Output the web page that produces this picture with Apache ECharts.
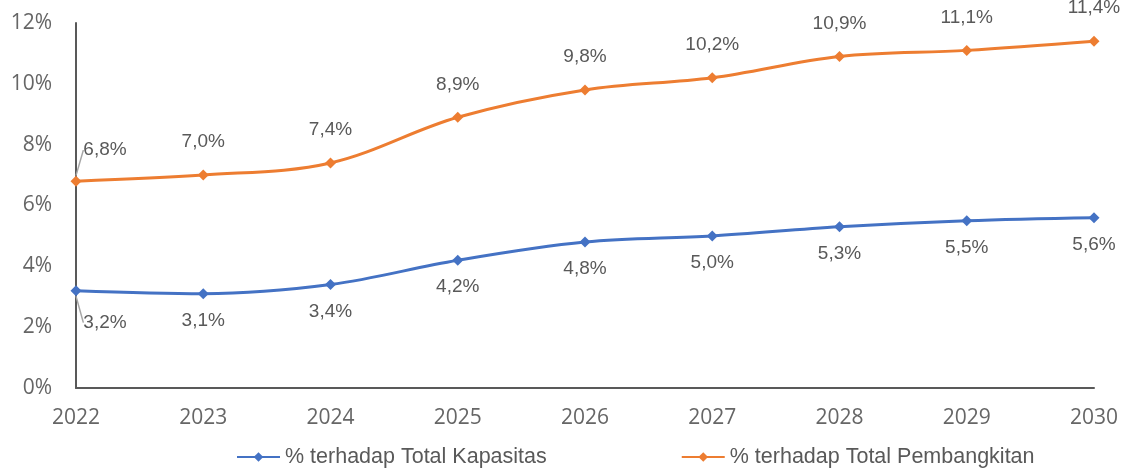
<!DOCTYPE html>
<html>
<head>
<meta charset="utf-8">
<script src="https://cdn.jsdelivr.net/npm/echarts@6/dist/echarts.min.js"></script>
<style>html,body{margin:0;padding:0;background:#fff;}#c{width:1124px;height:472px;}</style>
</head>
<body>
<div id="c"></div>
<script>
const categories = ['2022','2023','2024','2025','2026','2027','2028','2029','2030'];
const kapasitas = [3.2, 3.1, 3.4, 4.2, 4.8, 5.0, 5.3, 5.5, 5.6];
const pembangkitan = [6.8, 7.0, 7.4, 8.9, 9.8, 10.2, 10.9, 11.1, 11.4];
const seriesNames = ['% terhadap Total Kapasitas', '% terhadap Total Pembangkitan'];
const yTicks = [0, 2, 4, 6, 8, 10, 12];

const fmt = v => v.toFixed(1).replace('.', ',') + '%';
const chart = echarts.init(document.getElementById('c'), null, {renderer: 'canvas'});
const labelFont = {fontFamily: 'Liberation Sans, Arial, sans-serif', fontSize: 19, color: '#595959'};
const leader = {show: true, lineStyle: {color: '#a6a6a6', width: 1.5}};
const withLeader = arr => arr.map((v, i) => i === 0 ? {value: v, labelLine: leader} : v);

chart.setOption({
  animation: false,
  grid: {left: 76, right: 30, top: 23, bottom: 84, containLabel: false},
  legend: {
    top: 441, left: 231,
    itemWidth: 43, itemHeight: 12, itemGap: 134,
    textStyle: {fontFamily: 'Liberation Sans, Arial, sans-serif', fontSize: 21.5, color: '#595959'},
    data: seriesNames
  },
  xAxis: {
    type: 'category', data: categories, boundaryGap: false,
    axisLine: {show: true, lineStyle: {color: '#595959', width: 2}},
    axisTick: {show: false},
    axisLabel: {fontFamily: 'Open Sans, sans-serif', fontSize: 21, color: '#666', margin: 20}
  },
  yAxis: {
    type: 'value', min: 0, max: 12, interval: 2,
    axisLine: {show: true, lineStyle: {color: '#595959', width: 2}},
    axisTick: {show: false},
    splitLine: {show: false},
    axisLabel: {fontFamily: 'Open Sans, sans-serif', fontSize: 21, color: '#666', margin: 24,
      formatter: v => yTicks.includes(v) ? v + '%' : ''}
  },
  series: [
    {
      name: seriesNames[0], type: 'line', smooth: 0.35, data: withLeader(kapasitas),
      symbol: 'diamond', symbolSize: 11,
      lineStyle: {color: '#4472C4', width: 3}, itemStyle: {color: '#4472C4'},
      label: Object.assign({show: true, position: 'bottom', distance: 12, formatter: p => fmt(p.value)}, labelFont),
      labelLine: {show: false},
      labelLayout: p => p.dataIndex === 0 ? {dx: 29, dy: 5} : {}
    },
    {
      name: seriesNames[1], type: 'line', smooth: 0.35, data: withLeader(pembangkitan),
      symbol: 'diamond', symbolSize: 11,
      lineStyle: {color: '#ED7D31', width: 3}, itemStyle: {color: '#ED7D31'},
      label: Object.assign({show: true, position: 'top', distance: 18, formatter: p => fmt(p.value)}, labelFont),
      labelLine: {show: false},
      labelLayout: p => p.dataIndex === 0 ? {dx: 29, dy: 2} : {}
    }
  ]
});
</script>
</body>
</html>
